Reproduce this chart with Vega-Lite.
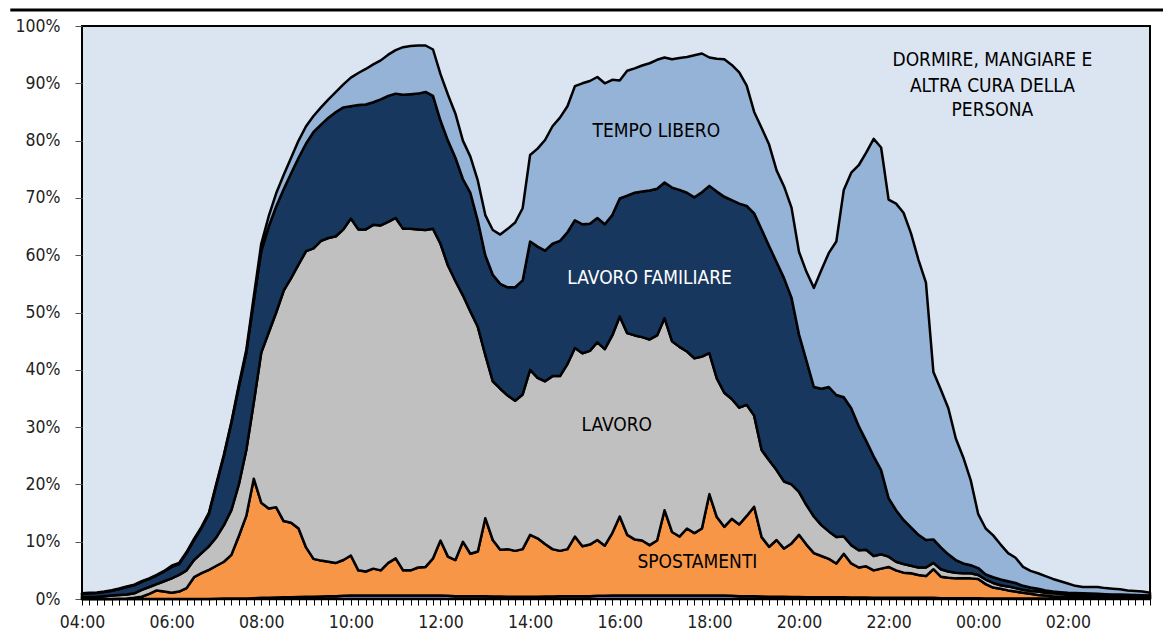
{
  "$schema": "https://vega.github.io/schema/vega-lite/v6.json",
  "width": 1068,
  "height": 573,
  "autosize": {"type": "none"},
  "padding": {"left": 82, "top": 26, "right": 13, "bottom": 43},
  "background": "#ffffff",
  "config": {
    "view": {"fill": "#DBE5F1", "stroke": "#000000", "strokeWidth": 2},
    "font": "DejaVu Sans Condensed"
  },
  "datasets": {
    "quote": [
      {"minuti":0,"altro":0,"spostamenti":0,"lavoro":0.3,"lavoro_familiare":0.6,"tempo_libero":0.1},
      {"minuti":10,"altro":0,"spostamenti":0,"lavoro":0.35,"lavoro_familiare":0.65,"tempo_libero":0.1},
      {"minuti":20,"altro":0,"spostamenti":0,"lavoro":0.4,"lavoro_familiare":0.65,"tempo_libero":0.1},
      {"minuti":30,"altro":0,"spostamenti":0,"lavoro":0.5,"lavoro_familiare":0.7,"tempo_libero":0.1},
      {"minuti":40,"altro":0,"spostamenti":0,"lavoro":0.6,"lavoro_familiare":0.85,"tempo_libero":0.1},
      {"minuti":50,"altro":0,"spostamenti":0.05,"lavoro":0.65,"lavoro_familiare":1.05,"tempo_libero":0.1},
      {"minuti":60,"altro":0,"spostamenti":0.1,"lavoro":0.7,"lavoro_familiare":1.3,"tempo_libero":0.1},
      {"minuti":70,"altro":0,"spostamenti":0.2,"lavoro":0.8,"lavoro_familiare":1.4,"tempo_libero":0.1},
      {"minuti":80,"altro":0,"spostamenti":0.4,"lavoro":1.2,"lavoro_familiare":1.4,"tempo_libero":0.1},
      {"minuti":90,"altro":0,"spostamenti":0.9,"lavoro":1.2,"lavoro_familiare":1.4,"tempo_libero":0.1},
      {"minuti":100,"altro":0,"spostamenti":1.5,"lavoro":1.1,"lavoro_familiare":1.5,"tempo_libero":0.1},
      {"minuti":110,"altro":0,"spostamenti":1.3,"lavoro":1.8,"lavoro_familiare":1.7,"tempo_libero":0.1},
      {"minuti":120,"altro":0,"spostamenti":1.1,"lavoro":2.5,"lavoro_familiare":2.0,"tempo_libero":0.2},
      {"minuti":130,"altro":0,"spostamenti":1.3,"lavoro":2.9,"lavoro_familiare":1.9,"tempo_libero":0.2},
      {"minuti":140,"altro":0,"spostamenti":1.9,"lavoro":3.1,"lavoro_familiare":3.0,"tempo_libero":0.2},
      {"minuti":150,"altro":0,"spostamenti":3.8,"lavoro":3.0,"lavoro_familiare":3.5,"tempo_libero":0.2},
      {"minuti":160,"altro":0,"spostamenti":4.5,"lavoro":3.5,"lavoro_familiare":4.4,"tempo_libero":0.2},
      {"minuti":170,"altro":0,"spostamenti":5.1,"lavoro":4.1,"lavoro_familiare":5.7,"tempo_libero":0.2},
      {"minuti":180,"altro":0.05,"spostamenti":5.75,"lavoro":5.0,"lavoro_familiare":9.2,"tempo_libero":0.2},
      {"minuti":190,"altro":0.1,"spostamenti":6.4,"lavoro":6.4,"lavoro_familiare":12.1,"tempo_libero":0.2},
      {"minuti":200,"altro":0.1,"spostamenti":7.6,"lavoro":7.8,"lavoro_familiare":15.2,"tempo_libero":0.2},
      {"minuti":210,"altro":0.1,"spostamenti":10.9,"lavoro":9.0,"lavoro_familiare":17.0,"tempo_libero":0.4},
      {"minuti":220,"altro":0.1,"spostamenti":14.4,"lavoro":11.5,"lavoro_familiare":17.0,"tempo_libero":0.5},
      {"minuti":230,"altro":0.15,"spostamenti":20.85,"lavoro":13.3,"lavoro_familiare":17.7,"tempo_libero":0.8},
      {"minuti":240,"altro":0.2,"spostamenti":16.6,"lavoro":26.2,"lavoro_familiare":17.7,"tempo_libero":1.3},
      {"minuti":250,"altro":0.2,"spostamenti":15.6,"lavoro":30.7,"lavoro_familiare":18.5,"tempo_libero":1.8},
      {"minuti":260,"altro":0.25,"spostamenti":15.75,"lavoro":34.0,"lavoro_familiare":18.5,"tempo_libero":2.3},
      {"minuti":270,"altro":0.3,"spostamenti":13.3,"lavoro":40.2,"lavoro_familiare":17.7,"tempo_libero":2.5},
      {"minuti":280,"altro":0.3,"spostamenti":13.0,"lavoro":42.7,"lavoro_familiare":18.3,"tempo_libero":2.7},
      {"minuti":290,"altro":0.35,"spostamenti":11.95,"lavoro":46.1,"lavoro_familiare":18.6,"tempo_libero":3.0},
      {"minuti":300,"altro":0.4,"spostamenti":8.6,"lavoro":51.7,"lavoro_familiare":18.8,"tempo_libero":3.0},
      {"minuti":310,"altro":0.4,"spostamenti":6.6,"lavoro":54.2,"lavoro_familiare":20.3,"tempo_libero":2.8},
      {"minuti":320,"altro":0.45,"spostamenti":6.25,"lavoro":55.8,"lavoro_familiare":20.3,"tempo_libero":3.0},
      {"minuti":330,"altro":0.5,"spostamenti":6.0,"lavoro":56.5,"lavoro_familiare":21.0,"tempo_libero":3.2},
      {"minuti":340,"altro":0.5,"spostamenti":5.8,"lavoro":57.0,"lavoro_familiare":21.7,"tempo_libero":3.5},
      {"minuti":350,"altro":0.55,"spostamenti":6.25,"lavoro":57.7,"lavoro_familiare":21.3,"tempo_libero":4.0},
      {"minuti":360,"altro":0.6,"spostamenti":7.0,"lavoro":58.8,"lavoro_familiare":19.6,"tempo_libero":5.0},
      {"minuti":370,"altro":0.6,"spostamenti":4.4,"lavoro":59.5,"lavoro_familiare":21.7,"tempo_libero":5.6},
      {"minuti":380,"altro":0.6,"spostamenti":4.2,"lavoro":59.7,"lavoro_familiare":21.8,"tempo_libero":6.2},
      {"minuti":390,"altro":0.6,"spostamenti":4.7,"lavoro":60.0,"lavoro_familiare":21.4,"tempo_libero":6.6},
      {"minuti":400,"altro":0.6,"spostamenti":4.4,"lavoro":60.2,"lavoro_familiare":22.0,"tempo_libero":6.8},
      {"minuti":410,"altro":0.6,"spostamenti":5.7,"lavoro":59.5,"lavoro_familiare":22.0,"tempo_libero":7.2},
      {"minuti":420,"altro":0.6,"spostamenti":6.5,"lavoro":59.4,"lavoro_familiare":21.7,"tempo_libero":7.6},
      {"minuti":430,"altro":0.6,"spostamenti":4.4,"lavoro":59.6,"lavoro_familiare":23.4,"tempo_libero":8.3},
      {"minuti":440,"altro":0.6,"spostamenti":4.4,"lavoro":59.6,"lavoro_familiare":23.5,"tempo_libero":8.4},
      {"minuti":450,"altro":0.6,"spostamenti":4.9,"lavoro":59.0,"lavoro_familiare":23.7,"tempo_libero":8.4},
      {"minuti":460,"altro":0.6,"spostamenti":5.0,"lavoro":58.8,"lavoro_familiare":24.1,"tempo_libero":8.1},
      {"minuti":470,"altro":0.6,"spostamenti":6.5,"lavoro":57.5,"lavoro_familiare":23.2,"tempo_libero":8.1},
      {"minuti":480,"altro":0.6,"spostamenti":9.6,"lavoro":51.8,"lavoro_familiare":21.5,"tempo_libero":8.1},
      {"minuti":490,"altro":0.55,"spostamenti":6.85,"lavoro":50.8,"lavoro_familiare":21.8,"tempo_libero":8.0},
      {"minuti":500,"altro":0.5,"spostamenti":6.3,"lavoro":48.7,"lavoro_familiare":21.5,"tempo_libero":7.7},
      {"minuti":510,"altro":0.5,"spostamenti":9.5,"lavoro":43.0,"lavoro_familiare":20.3,"tempo_libero":6.7},
      {"minuti":520,"altro":0.5,"spostamenti":7.4,"lavoro":42.3,"lavoro_familiare":20.7,"tempo_libero":6.3},
      {"minuti":530,"altro":0.5,"spostamenti":7.8,"lavoro":39.2,"lavoro_familiare":18.5,"tempo_libero":7.0},
      {"minuti":540,"altro":0.5,"spostamenti":13.6,"lavoro":28.5,"lavoro_familiare":17.4,"tempo_libero":7.0},
      {"minuti":550,"altro":0.45,"spostamenti":9.85,"lavoro":27.7,"lavoro_familiare":18.6,"tempo_libero":7.8},
      {"minuti":560,"altro":0.45,"spostamenti":8.15,"lavoro":28.1,"lavoro_familiare":18.3,"tempo_libero":8.6},
      {"minuti":570,"altro":0.4,"spostamenti":8.3,"lavoro":26.8,"lavoro_familiare":18.9,"tempo_libero":10.2},
      {"minuti":580,"altro":0.4,"spostamenti":8.0,"lavoro":26.2,"lavoro_familiare":19.8,"tempo_libero":11.3},
      {"minuti":590,"altro":0.4,"spostamenti":8.3,"lavoro":27.0,"lavoro_familiare":19.9,"tempo_libero":12.6},
      {"minuti":600,"altro":0.4,"spostamenti":10.8,"lavoro":28.8,"lavoro_familiare":22.4,"tempo_libero":15.1},
      {"minuti":610,"altro":0.4,"spostamenti":10.2,"lavoro":28.0,"lavoro_familiare":22.9,"tempo_libero":17.1},
      {"minuti":620,"altro":0.45,"spostamenti":9.15,"lavoro":28.4,"lavoro_familiare":22.8,"tempo_libero":19.3},
      {"minuti":630,"altro":0.45,"spostamenti":8.25,"lavoro":30.2,"lavoro_familiare":23.1,"tempo_libero":20.5},
      {"minuti":640,"altro":0.5,"spostamenti":7.9,"lavoro":30.5,"lavoro_familiare":23.6,"tempo_libero":21.5},
      {"minuti":650,"altro":0.5,"spostamenti":8.2,"lavoro":32.3,"lavoro_familiare":23.0,"tempo_libero":22.0},
      {"minuti":660,"altro":0.5,"spostamenti":10.4,"lavoro":32.9,"lavoro_familiare":22.3,"tempo_libero":23.4},
      {"minuti":670,"altro":0.5,"spostamenti":8.7,"lavoro":33.7,"lavoro_familiare":22.5,"tempo_libero":24.6},
      {"minuti":680,"altro":0.5,"spostamenti":9.0,"lavoro":33.8,"lavoro_familiare":22.2,"tempo_libero":24.9},
      {"minuti":690,"altro":0.55,"spostamenti":9.75,"lavoro":34.5,"lavoro_familiare":21.7,"tempo_libero":24.6},
      {"minuti":700,"altro":0.55,"spostamenti":8.75,"lavoro":34.3,"lavoro_familiare":21.8,"tempo_libero":24.6},
      {"minuti":710,"altro":0.6,"spostamenti":10.9,"lavoro":34.5,"lavoro_familiare":21.0,"tempo_libero":23.6},
      {"minuti":720,"altro":0.6,"spostamenti":13.8,"lavoro":34.9,"lavoro_familiare":20.6,"tempo_libero":20.6},
      {"minuti":730,"altro":0.6,"spostamenti":10.6,"lavoro":35.2,"lavoro_familiare":24.0,"tempo_libero":21.8},
      {"minuti":740,"altro":0.6,"spostamenti":9.8,"lavoro":35.6,"lavoro_familiare":24.9,"tempo_libero":21.7},
      {"minuti":750,"altro":0.6,"spostamenti":9.6,"lavoro":35.5,"lavoro_familiare":25.4,"tempo_libero":22.0},
      {"minuti":760,"altro":0.6,"spostamenti":8.8,"lavoro":35.9,"lavoro_familiare":26.0,"tempo_libero":22.2},
      {"minuti":770,"altro":0.6,"spostamenti":9.6,"lavoro":35.8,"lavoro_familiare":25.6,"tempo_libero":22.5},
      {"minuti":780,"altro":0.6,"spostamenti":14.9,"lavoro":33.5,"lavoro_familiare":23.7,"tempo_libero":21.8},
      {"minuti":790,"altro":0.6,"spostamenti":11.1,"lavoro":33.3,"lavoro_familiare":26.8,"tempo_libero":22.4},
      {"minuti":800,"altro":0.6,"spostamenti":10.3,"lavoro":33.1,"lavoro_familiare":27.4,"tempo_libero":23.0},
      {"minuti":810,"altro":0.6,"spostamenti":11.7,"lavoro":30.9,"lavoro_familiare":27.7,"tempo_libero":23.7},
      {"minuti":820,"altro":0.6,"spostamenti":10.9,"lavoro":30.5,"lavoro_familiare":28.1,"tempo_libero":24.8},
      {"minuti":830,"altro":0.6,"spostamenti":11.7,"lavoro":30.0,"lavoro_familiare":28.7,"tempo_libero":24.2},
      {"minuti":840,"altro":0.6,"spostamenti":17.7,"lavoro":24.6,"lavoro_familiare":29.2,"tempo_libero":22.4},
      {"minuti":850,"altro":0.6,"spostamenti":13.7,"lavoro":24.2,"lavoro_familiare":32.6,"tempo_libero":23.2},
      {"minuti":860,"altro":0.6,"spostamenti":12.0,"lavoro":23.4,"lavoro_familiare":34.2,"tempo_libero":24.0},
      {"minuti":870,"altro":0.55,"spostamenti":13.45,"lavoro":20.9,"lavoro_familiare":34.7,"tempo_libero":23.6},
      {"minuti":880,"altro":0.5,"spostamenti":12.5,"lavoro":20.4,"lavoro_familiare":35.6,"tempo_libero":22.9},
      {"minuti":890,"altro":0.5,"spostamenti":14.0,"lavoro":19.4,"lavoro_familiare":34.7,"tempo_libero":21.0},
      {"minuti":900,"altro":0.5,"spostamenti":15.6,"lavoro":15.9,"lavoro_familiare":35.3,"tempo_libero":17.7},
      {"minuti":910,"altro":0.45,"spostamenti":10.35,"lavoro":15.2,"lavoro_familiare":38.5,"tempo_libero":17.7},
      {"minuti":920,"altro":0.4,"spostamenti":8.7,"lavoro":15.1,"lavoro_familiare":37.4,"tempo_libero":17.7},
      {"minuti":930,"altro":0.4,"spostamenti":9.9,"lavoro":12.2,"lavoro_familiare":36.3,"tempo_libero":16.0},
      {"minuti":940,"altro":0.4,"spostamenti":8.4,"lavoro":11.7,"lavoro_familiare":35.5,"tempo_libero":16.0},
      {"minuti":950,"altro":0.35,"spostamenti":9.35,"lavoro":10.3,"lavoro_familiare":32.6,"tempo_libero":15.7},
      {"minuti":960,"altro":0.35,"spostamenti":10.85,"lavoro":7.5,"lavoro_familiare":27.5,"tempo_libero":14.4},
      {"minuti":970,"altro":0.3,"spostamenti":9.2,"lavoro":6.9,"lavoro_familiare":25.2,"tempo_libero":15.5},
      {"minuti":980,"altro":0.3,"spostamenti":7.7,"lavoro":6.4,"lavoro_familiare":22.6,"tempo_libero":17.3},
      {"minuti":990,"altro":0.3,"spostamenti":7.2,"lavoro":5.4,"lavoro_familiare":23.8,"tempo_libero":20.7},
      {"minuti":1000,"altro":0.3,"spostamenti":6.7,"lavoro":4.8,"lavoro_familiare":25.2,"tempo_libero":23.4},
      {"minuti":1010,"altro":0.3,"spostamenti":5.9,"lavoro":4.6,"lavoro_familiare":24.8,"tempo_libero":26.8},
      {"minuti":1020,"altro":0.3,"spostamenti":7.6,"lavoro":3.0,"lavoro_familiare":24.3,"tempo_libero":36.2},
      {"minuti":1030,"altro":0.25,"spostamenti":5.95,"lavoro":3.2,"lavoro_familiare":23.9,"tempo_libero":41.1},
      {"minuti":1040,"altro":0.25,"spostamenti":5.25,"lavoro":3.0,"lavoro_familiare":21.7,"tempo_libero":45.5},
      {"minuti":1050,"altro":0.25,"spostamenti":5.45,"lavoro":2.9,"lavoro_familiare":19.0,"tempo_libero":50.3},
      {"minuti":1060,"altro":0.2,"spostamenti":4.8,"lavoro":2.5,"lavoro_familiare":17.4,"tempo_libero":55.4},
      {"minuti":1070,"altro":0.2,"spostamenti":5.1,"lavoro":2.5,"lavoro_familiare":14.7,"tempo_libero":56.3},
      {"minuti":1080,"altro":0.2,"spostamenti":5.4,"lavoro":1.8,"lavoro_familiare":10.2,"tempo_libero":52.1},
      {"minuti":1090,"altro":0.2,"spostamenti":4.8,"lavoro":1.5,"lavoro_familiare":9.0,"tempo_libero":53.5},
      {"minuti":1100,"altro":0.2,"spostamenti":4.4,"lavoro":1.5,"lavoro_familiare":7.7,"tempo_libero":53.6},
      {"minuti":1110,"altro":0.2,"spostamenti":4.3,"lavoro":1.3,"lavoro_familiare":6.7,"tempo_libero":51.3},
      {"minuti":1120,"altro":0.2,"spostamenti":4.0,"lavoro":1.3,"lavoro_familiare":5.7,"tempo_libero":48.0},
      {"minuti":1130,"altro":0.2,"spostamenti":3.8,"lavoro":1.5,"lavoro_familiare":4.8,"tempo_libero":44.9},
      {"minuti":1140,"altro":0.2,"spostamenti":5.0,"lavoro":1.1,"lavoro_familiare":4.1,"tempo_libero":29.2},
      {"minuti":1150,"altro":0.15,"spostamenti":3.75,"lavoro":1.3,"lavoro_familiare":3.8,"tempo_libero":27.5},
      {"minuti":1160,"altro":0.15,"spostamenti":3.55,"lavoro":1.1,"lavoro_familiare":3.0,"tempo_libero":25.5},
      {"minuti":1170,"altro":0.15,"spostamenti":3.45,"lavoro":1.0,"lavoro_familiare":2.2,"tempo_libero":21.2},
      {"minuti":1180,"altro":0.15,"spostamenti":3.45,"lavoro":0.9,"lavoro_familiare":1.7,"tempo_libero":18.5},
      {"minuti":1190,"altro":0.15,"spostamenti":3.45,"lavoro":0.9,"lavoro_familiare":1.4,"tempo_libero":14.8},
      {"minuti":1200,"altro":0.15,"spostamenti":3.35,"lavoro":0.7,"lavoro_familiare":1.2,"tempo_libero":9.4},
      {"minuti":1210,"altro":0.1,"spostamenti":2.5,"lavoro":0.8,"lavoro_familiare":0.9,"tempo_libero":8.0},
      {"minuti":1220,"altro":0.1,"spostamenti":1.9,"lavoro":0.8,"lavoro_familiare":1.0,"tempo_libero":7.3},
      {"minuti":1230,"altro":0.1,"spostamenti":1.7,"lavoro":0.6,"lavoro_familiare":1.0,"tempo_libero":6.1},
      {"minuti":1240,"altro":0.1,"spostamenti":1.4,"lavoro":0.7,"lavoro_familiare":0.9,"tempo_libero":4.9},
      {"minuti":1250,"altro":0.1,"spostamenti":1.2,"lavoro":0.6,"lavoro_familiare":0.9,"tempo_libero":4.4},
      {"minuti":1260,"altro":0.1,"spostamenti":1.0,"lavoro":0.5,"lavoro_familiare":0.7,"tempo_libero":3.3},
      {"minuti":1270,"altro":0.1,"spostamenti":0.8,"lavoro":0.5,"lavoro_familiare":0.6,"tempo_libero":2.9},
      {"minuti":1280,"altro":0.1,"spostamenti":0.6,"lavoro":0.6,"lavoro_familiare":0.5,"tempo_libero":2.7},
      {"minuti":1290,"altro":0.1,"spostamenti":0.5,"lavoro":0.5,"lavoro_familiare":0.4,"tempo_libero":2.5},
      {"minuti":1300,"altro":0.1,"spostamenti":0.4,"lavoro":0.5,"lavoro_familiare":0.3,"tempo_libero":2.2},
      {"minuti":1310,"altro":0.1,"spostamenti":0.35,"lavoro":0.45,"lavoro_familiare":0.3,"tempo_libero":1.9},
      {"minuti":1320,"altro":0.1,"spostamenti":0.3,"lavoro":0.45,"lavoro_familiare":0.25,"tempo_libero":1.6},
      {"minuti":1330,"altro":0.1,"spostamenti":0.3,"lavoro":0.4,"lavoro_familiare":0.25,"tempo_libero":1.25},
      {"minuti":1340,"altro":0.1,"spostamenti":0.25,"lavoro":0.4,"lavoro_familiare":0.25,"tempo_libero":1.1},
      {"minuti":1350,"altro":0.1,"spostamenti":0.25,"lavoro":0.35,"lavoro_familiare":0.25,"tempo_libero":1.15},
      {"minuti":1360,"altro":0.1,"spostamenti":0.25,"lavoro":0.35,"lavoro_familiare":0.2,"tempo_libero":1.2},
      {"minuti":1370,"altro":0.1,"spostamenti":0.2,"lavoro":0.35,"lavoro_familiare":0.2,"tempo_libero":1.05},
      {"minuti":1380,"altro":0.1,"spostamenti":0.2,"lavoro":0.3,"lavoro_familiare":0.2,"tempo_libero":1.0},
      {"minuti":1390,"altro":0.1,"spostamenti":0.2,"lavoro":0.3,"lavoro_familiare":0.2,"tempo_libero":0.9},
      {"minuti":1400,"altro":0.1,"spostamenti":0.2,"lavoro":0.25,"lavoro_familiare":0.2,"tempo_libero":0.75},
      {"minuti":1410,"altro":0.1,"spostamenti":0.2,"lavoro":0.2,"lavoro_familiare":0.2,"tempo_libero":0.7},
      {"minuti":1420,"altro":0.1,"spostamenti":0.2,"lavoro":0.15,"lavoro_familiare":0.2,"tempo_libero":0.65},
      {"minuti":1430,"altro":0.1,"spostamenti":0.2,"lavoro":0.1,"lavoro_familiare":0.2,"tempo_libero":0.5}
    ],
    "etichette": [
      {"testo": "TEMPO LIBERO", "minuti": 769, "quota": 81.7},
      {"testo": "LAVORO FAMILIARE", "minuti": 760, "quota": 56.1},
      {"testo": "LAVORO", "minuti": 716, "quota": 30.4},
      {"testo": "SPOSTAMENTI", "minuti": 824, "quota": 6.4},
      {"testo": "DORMIRE, MANGIARE E", "minuti": 1219, "quota": 94.1},
      {"testo": "ALTRA CURA DELLA", "minuti": 1219, "quota": 89.6},
      {"testo": "PERSONA", "minuti": 1219, "quota": 85.3}
    ]
  },
  "layer": [
    {
      "data": {"name": "quote"},
      "transform": [
        {"fold": ["altro", "spostamenti", "lavoro", "lavoro_familiare", "tempo_libero"], "as": ["attivita", "quota"]},
        {"calculate": "indexof(['altro','spostamenti','lavoro','lavoro_familiare','tempo_libero'], datum.attivita)", "as": "ordine"}
      ],
      "mark": {"type": "area", "stroke": "#000000", "strokeWidth": 2.5, "strokeJoin": "round", "interpolate": "linear", "opacity": 1},
      "encoding": {
        "x": {
          "field": "minuti", "type": "quantitative",
          "scale": {"domain": [0, 1430], "nice": false, "zero": false},
          "axis": {
            "title": null, "grid": false, "domain": false,
            "tickCount": 144, "tickSize": 6, "tickColor": "#000000", "tickWidth": 1,
            "labelOverlap": false, "labelFlush": false, "labelBound": false,
            "labelExpr": "datum.value % 120 == 0 ? ((floor(datum.value/60)+4)%24 < 10 ? '0' : '') + ((floor(datum.value/60)+4)%24) + ':00' : ''",
            "labelFont": "DejaVu Sans Condensed", "labelFontSize": 17.5, "labelColor": "#222222", "labelPadding": 8
          }
        },
        "y": {
          "field": "quota", "type": "quantitative", "stack": "zero",
          "scale": {"domain": [0, 100], "nice": false},
          "axis": {
            "title": null, "grid": false, "domain": false,
            "values": [0, 10, 20, 30, 40, 50, 60, 70, 80, 90, 100],
            "tickSize": 7, "tickColor": "#555555", "tickWidth": 1,
            "labelExpr": "datum.value + '%'",
            "labelFont": "DejaVu Sans Condensed", "labelFontSize": 17.5, "labelColor": "#222222", "labelPadding": 15
          }
        },
        "color": {
          "field": "attivita", "type": "nominal",
          "scale": {
            "domain": ["altro", "spostamenti", "lavoro", "lavoro_familiare", "tempo_libero"],
            "range": ["#8E8EDD", "#F79646", "#C0C0C0", "#17375E", "#95B3D7"]
          },
          "legend": null
        },
        "order": {"field": "ordine", "type": "quantitative"}
      }
    },
    {
      "data": {"name": "etichette"},
      "mark": {"type": "text", "align": "center", "baseline": "middle", "font": "DejaVu Sans Condensed", "fontSize": 19},
      "encoding": {
        "x": {"field": "minuti", "type": "quantitative"},
        "y": {"field": "quota", "type": "quantitative"},
        "text": {"field": "testo"},
        "color": {"condition": {"test": "datum.testo == 'LAVORO FAMILIARE'", "value": "#FFFFFF"}, "value": "#000000"}
      }
    },
    {
      "data": {"values": [{}]},
      "mark": {"type": "rule", "clip": false, "stroke": "#000000", "strokeWidth": 3},
      "encoding": {
        "x": {"datum": -96},
        "x2": {"datum": 1448},
        "y": {"datum": 102.8}
      }
    }
  ]
}
